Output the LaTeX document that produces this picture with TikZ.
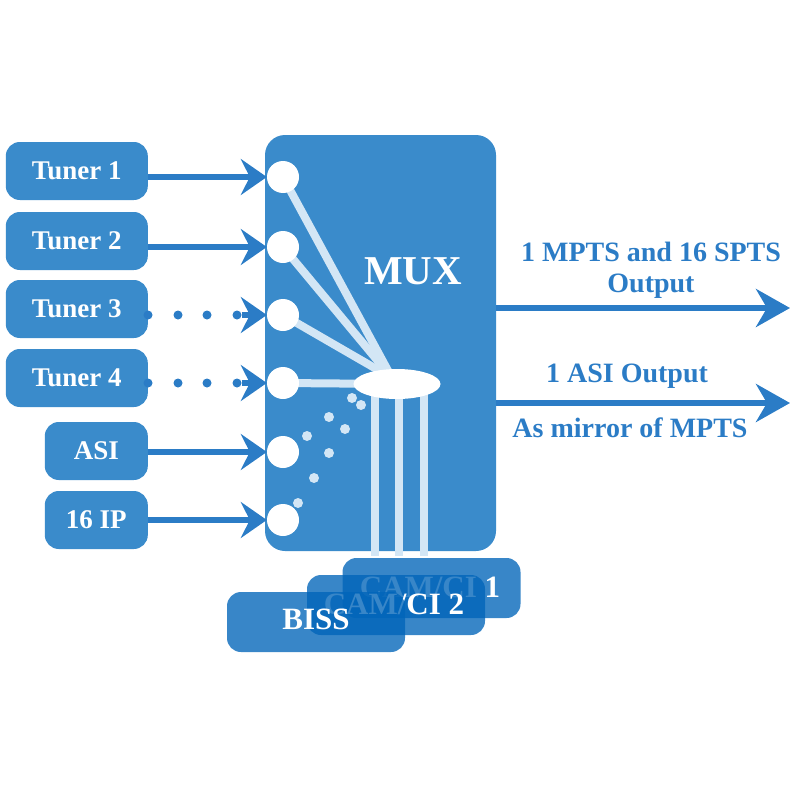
\documentclass[tikz,border=0pt]{standalone}
\usepackage{fontspec}
\setmainfont{Liberation Serif}
\usetikzlibrary{arrows.meta,shapes.geometric}
\pgfdeclarelayer{bg}
\pgfdeclarelayer{lines}
\pgfsetlayers{bg,lines,main}
\definecolor{mainblue}{HTML}{3A8BCB}
\definecolor{arrowblue}{HTML}{2B7CC6}
\definecolor{lite}{HTML}{D3E6F5}
\definecolor{camblue}{HTML}{0064B9}
\tikzset{
  inbox/.style={draw=none,fill=mainblue,rounded corners=14pt,minimum height=58pt,text=white,font=\fontsize{27}{30}\selectfont\bfseries,inner sep=0pt},
  camstyle/.style={draw=none,fill=camblue,fill opacity=0.78,rounded corners=14pt,minimum width=178pt,minimum height=60pt,inner sep=0pt},
  camtext/.style={text=white,font=\fontsize{31}{34}\selectfont\bfseries,inner sep=0pt},
  port/.style={circle,fill=white,draw=none,minimum size=32pt,inner sep=0pt},
  litel/.style={draw=lite,line width=8pt},
  bubble/.style={circle,fill=lite,draw=none,minimum size=10pt,inner sep=0pt},
  tipshape/.style={-{Stealth[length=26pt,width=36pt,inset=9pt]}},
  inarrow/.style={draw=arrowblue,line width=6pt,tipshape},
  dotrow/.style={fill=arrowblue,draw=none,circle,minimum size=9pt,inner sep=0pt},
  dottip/.style={draw=arrowblue,line width=6pt,shorten <=4.5pt,tipshape},
  outarrow/.style={draw=arrowblue,line width=6pt,-{Stealth[length=34pt,width=38pt,inset=11pt]}},
  outtext/.style={text=arrowblue,font=\fontsize{28}{31}\selectfont\bfseries,inner sep=0pt}
}
\begin{document}
\begin{tikzpicture}[x=1pt,y=-1pt]
\useasboundingbox (0,0) rectangle (800,800);

% input boxes
\node[inbox,anchor=east,minimum width=142pt] (t1) at (148,171) {Tuner 1};
\node[inbox,anchor=east,minimum width=142pt] (t2) at (148,241) {Tuner 2};
\node[inbox,anchor=east,minimum width=142pt] (t3) at (148,309) {Tuner 3};
\node[inbox,anchor=east,minimum width=142pt] (t4) at (148,378) {Tuner 4};
\node[inbox,anchor=east,minimum width=103pt] (asi) at (148,451) {ASI};
\node[inbox,anchor=east,minimum width=103pt] (ip) at (148,520) {16 IP};

% MUX box
\begin{pgfonlayer}{bg}
\node[draw=none,fill=mainblue,rounded corners=20pt,minimum width=231pt,minimum height=416pt,inner sep=0pt] (mux) at (380.5,343) {};
\end{pgfonlayer}
\node[text=white,font=\fontsize{41}{44}\selectfont\bfseries,inner sep=0pt] (muxlabel) at (413,271) {MUX};

% ports
\node[port] (c1) at (283,177) {};
\node[port] (c2) at (283,247) {};
\node[port] (c3) at (283,315) {};
\node[port] (c4) at (283,383) {};
\node[port] (c5) at (283,452) {};
\node[port] (c6) at (283,520) {};

% hub
\node[ellipse,fill=white,draw=none,minimum width=87pt,minimum height=30pt,inner sep=0pt] (hub) at (397,384) {};
\coordinate (conv) at (392,378);
\coordinate (v1top) at (375,384);
\coordinate (v2top) at (399,384);
\coordinate (v3top) at (424,384);
\coordinate (v1bot) at (375,556);
\coordinate (v2bot) at (399,556);
\coordinate (v3bot) at (424,556);

\begin{pgfonlayer}{lines}
\draw[litel] (c1.center) -- (conv);
\draw[litel] (c2.center) -- (conv);
\draw[litel] (c3.center) -- (conv);
\draw[litel] (c4.center) -- (hub.center);
\draw[litel] (v1top) -- (v1bot);
\draw[litel] (v2top) -- (v2bot);
\draw[litel] (v3top) -- (v3bot);
\end{pgfonlayer}

% bubbles
\node[bubble] (b1) at (352,398) {};
\node[bubble] (b2) at (361,405) {};
\node[bubble] (b3) at (329,417) {};
\node[bubble] (b4) at (345,429) {};
\node[bubble] (b5) at (307,436) {};
\node[bubble] (b6) at (329,453) {};
\node[bubble] (b7) at (314,478) {};
\node[bubble] (b8) at (298,503) {};

% input arrows
\draw[inarrow] (t1.east |- c1) -- (c1.west);
\draw[inarrow] (t2.east |- c2) -- (c2.west);
\draw[inarrow] (asi.east |- c5) -- (c5.west);
\draw[inarrow] (ip.east |- c6) -- (c6.west);

% dotted inputs
\foreach \n/\c in {t3/c3,t4/c4}{
  \node[dotrow] (\n d1) at (\n.east |- \c) {};
  \node[dotrow] (\n d2) at ([xshift=30pt]\n d1.center) {};
  \node[dotrow] (\n d3) at ([xshift=59pt]\n d1.center) {};
  \node[dotrow] (\n d4) at ([xshift=89pt]\n d1.center) {};
  \draw[dottip] (\n d4.center) -- (\c.west);
}

% outputs
\coordinate (o1) at (790,308);
\coordinate (o2) at (790,403);
\draw[outarrow] (mux.east |- o1) -- (o1);
\draw[outarrow] (mux.east |- o2) -- (o2);
\node[outtext] (l1) at (651,252) {1 MPTS and 16 SPTS};
\node[outtext] (l2) at (651,286) {Output};
\node[outtext] (l3) at (627,376) {1 ASI Output};
\node[outtext] (l4) at (630,428) {As mirror of MPTS};

% CAM / BISS stack
\node[camstyle] (cam1) at (431.5,588) {};
\node[camtext] (cam1t) at (430,587) {CAM/CI 1};
\node[camstyle] (cam2) at (396,605) {};
\node[camtext] (cam2t) at (394,604) {CAM/CI 2};
\node[camstyle] (biss) at (316,622) {};
\node[camtext] (bisst) at (316,619) {BISS};
\end{tikzpicture}
\end{document}
